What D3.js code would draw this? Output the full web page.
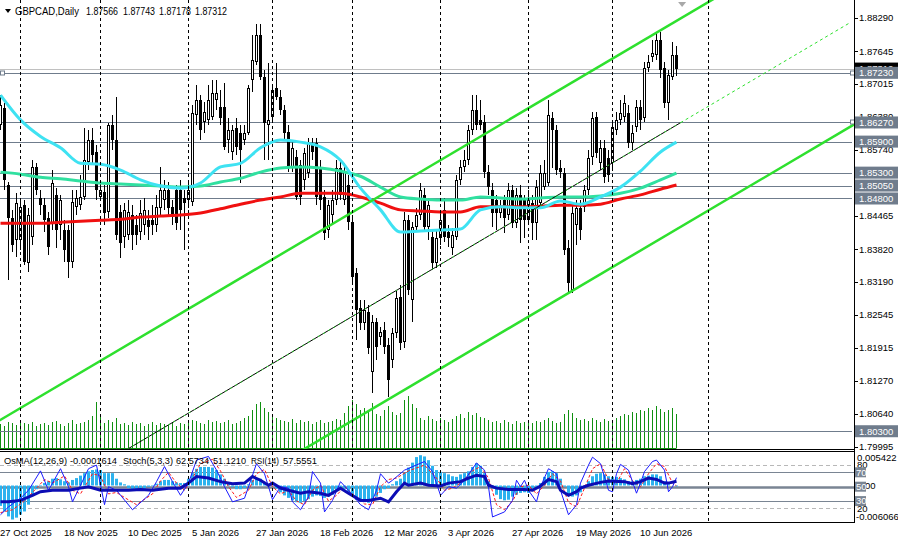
<!DOCTYPE html>
<html>
<head>
<meta charset="utf-8">
<script src="https://cdn.jsdelivr.net/npm/d3@7"></script>
<style>
body { margin: 0; background: #fff; }
svg { display: block; font-family: "Liberation Sans", Arial, sans-serif; font-size: 9.5px; }
</style>
</head>
<body>
<svg width="898" height="544"></svg>
<script>
// daily candles, open/high/low/close, one row per bar
const ohlc = [
[1.8622,1.8680,1.8612,1.8660],[1.8655,1.8664,1.8496,1.8516],[1.8506,1.8512,1.8322,1.8443],[1.8443,1.8458,1.8376,1.8390],
[1.8400,1.8490,1.8367,1.8471],[1.8400,1.8477,1.8380,1.8463],[1.8467,1.8477,1.8351,1.8357],[1.8355,1.8462,1.8338,1.8448],
[1.8405,1.8554,1.8390,1.8540],[1.8540,1.8548,1.8486,1.8496],[1.8481,1.8496,1.8448,1.8467],[1.8467,1.8481,1.8415,1.8438],
[1.8442,1.8454,1.8371,1.8386],[1.8432,1.8535,1.8419,1.8510],[1.8487,1.8500,1.8384,1.8419],[1.8429,1.8487,1.8400,1.8477],
[1.8419,1.8438,1.8357,1.8380],[1.8419,1.8429,1.8326,1.8357],[1.8357,1.8496,1.8346,1.8473],[1.8463,1.8496,1.8448,1.8481],
[1.8467,1.8525,1.8458,1.8483],[1.8483,1.8616,1.8477,1.8554],[1.8550,1.8612,1.8535,1.8593],[1.8593,1.8616,1.8545,1.8564],
[1.8570,1.8583,1.8477,1.8496],[1.8483,1.8516,1.8477,1.8496],[1.8492,1.8506,1.8429,1.8452],[1.8454,1.8626,1.8442,1.8622],
[1.8622,1.8641,1.8574,1.8593],[1.8593,1.8676,1.8400,1.8409],[1.8454,1.8467,1.8365,1.8394],[1.8405,1.8471,1.8384,1.8458],
[1.8409,1.8477,1.8400,1.8454],[1.8448,1.8467,1.8380,1.8409],[1.8429,1.8448,1.8390,1.8409],[1.8415,1.8477,1.8400,1.8452],
[1.8429,1.8481,1.8409,1.8458],[1.8438,1.8458,1.8400,1.8425],[1.8438,1.8467,1.8409,1.8429],[1.8429,1.8487,1.8415,1.8463],
[1.8461,1.8540,1.8448,1.8496],[1.8477,1.8516,1.8458,1.8496],[1.8496,1.8512,1.8448,1.8461],[1.8463,1.8477,1.8429,1.8444],
[1.8496,1.8506,1.8419,1.8432],[1.8496,1.8516,1.8419,1.8458],[1.8481,1.8496,1.8380,1.8471],[1.8477,1.8516,1.8461,1.8496],
[1.8473,1.8660,1.8465,1.8645],[1.8641,1.8699,1.8622,1.8670],[1.8670,1.8680,1.8593,1.8612],[1.8628,1.8666,1.8606,1.8647],
[1.8632,1.8699,1.8622,1.8670],[1.8638,1.8709,1.8632,1.8684],[1.8670,1.8709,1.8651,1.8684],[1.8657,1.8690,1.8622,1.8636],
[1.8657,1.8703,1.8574,1.8580],[1.8593,1.8636,1.8568,1.8612],[1.8570,1.8622,1.8554,1.8612],[1.8616,1.8636,1.8564,1.8580],
[1.8606,1.8622,1.8510,1.8574],[1.8593,1.8622,1.8583,1.8606],[1.8606,1.8699,1.8603,1.8694],[1.8709,1.8796,1.8686,1.8748],
[1.8744,1.8817,1.8738,1.8796],[1.8796,1.8817,1.8709,1.8714],[1.8714,1.8728,1.8554,1.8626],[1.8622,1.8742,1.8554,1.8632],
[1.8638,1.8699,1.8632,1.8690],[1.8694,1.8742,1.8670,1.8676],[1.8676,1.8690,1.8641,1.8651],[1.8651,1.8660,1.8593,1.8606],
[1.8608,1.8622,1.8531,1.8540],[1.8540,1.8593,1.8531,1.8577],[1.8560,1.8574,1.8477,1.8483],[1.8545,1.8554,1.8467,1.8483],
[1.8516,1.8577,1.8496,1.8568],[1.8529,1.8597,1.8520,1.8587],[1.8583,1.8597,1.8554,1.8570],[1.8587,1.8597,1.8467,1.8483],
[1.8540,1.8554,1.8458,1.8477],[1.8483,1.8496,1.8400,1.8413],[1.8419,1.8477,1.8404,1.8467],[1.8448,1.8496,1.8429,1.8477],
[1.8477,1.8554,1.8467,1.8539],[1.8539,1.8554,1.8477,1.8487],[1.8477,1.8548,1.8467,1.8531],[1.8506,1.8525,1.8419,1.8434],
[1.8434,1.8448,1.8319,1.8328],[1.8336,1.8346,1.8206,1.8264],[1.8268,1.8284,1.8226,1.8239],[1.8239,1.8284,1.8226,1.8264],
[1.8260,1.8274,1.8180,1.8191],[1.8144,1.8255,1.8104,1.8241],[1.8241,1.8249,1.8168,1.8193],[1.8212,1.8232,1.8197,1.8222],
[1.8226,1.8241,1.8180,1.8193],[1.8197,1.8210,1.8096,1.8129],[1.8168,1.8230,1.8152,1.8220],[1.8220,1.8303,1.8210,1.8288],
[1.8290,1.8313,1.8187,1.8201],[1.8203,1.8454,1.8191,1.8438],[1.8438,1.8448,1.8294,1.8303],[1.8284,1.8434,1.8241,1.8425],
[1.8425,1.8462,1.8415,1.8448],[1.8448,1.8510,1.8438,1.8496],[1.8487,1.8500,1.8415,1.8425],[1.8425,1.8481,1.8400,1.8467],
[1.8405,1.8419,1.8342,1.8355],[1.8355,1.8419,1.8346,1.8404],[1.8404,1.8454,1.8390,1.8438],[1.8458,1.8481,1.8396,1.8405],
[1.8415,1.8429,1.8386,1.8404],[1.8384,1.8423,1.8371,1.8409],[1.8405,1.8525,1.8400,1.8516],[1.8516,1.8554,1.8506,1.8540],
[1.8540,1.8574,1.8531,1.8554],[1.8554,1.8622,1.8545,1.8612],[1.8612,1.8680,1.8603,1.8651],[1.8651,1.8680,1.8612,1.8622],
[1.8632,1.8670,1.8612,1.8622],[1.8628,1.8641,1.8520,1.8531],[1.8531,1.8545,1.8487,1.8502],[1.8496,1.8510,1.8425,1.8452],
[1.8477,1.8487,1.8419,1.8452],[1.8452,1.8477,1.8442,1.8463],[1.8477,1.8487,1.8413,1.8442],[1.8448,1.8510,1.8438,1.8496],
[1.8496,1.8506,1.8423,1.8432],[1.8432,1.8500,1.8423,1.8487],[1.8487,1.8506,1.8394,1.8438],[1.8477,1.8487,1.8404,1.8438],
[1.8438,1.8496,1.8429,1.8477],[1.8471,1.8487,1.8400,1.8432],[1.8432,1.8516,1.8400,1.8502],[1.8471,1.8545,1.8461,1.8529],
[1.8502,1.8554,1.8496,1.8529],[1.8510,1.8670,1.8504,1.8641],[1.8636,1.8647,1.8539,1.8612],[1.8612,1.8622,1.8525,1.8535],
[1.8539,1.8554,1.8520,1.8531],[1.8529,1.8539,1.8371,1.8380],[1.8384,1.8400,1.8297,1.8316],[1.8303,1.8467,1.8297,1.8452],
[1.8429,1.8477,1.8390,1.8461],[1.8461,1.8477,1.8400,1.8419],[1.8463,1.8506,1.8454,1.8496],[1.8496,1.8574,1.8487,1.8558],
[1.8560,1.8647,1.8545,1.8636],[1.8638,1.8647,1.8558,1.8568],[1.8548,1.8593,1.8535,1.8577],[1.8577,1.8593,1.8510,1.8522],
[1.8558,1.8574,1.8512,1.8525],[1.8548,1.8632,1.8535,1.8618],[1.8612,1.8647,1.8603,1.8632],[1.8632,1.8670,1.8622,1.8645],
[1.8638,1.8680,1.8628,1.8664],[1.8645,1.8660,1.8577,1.8587],[1.8587,1.8622,1.8574,1.8606],[1.8618,1.8670,1.8608,1.8657],
[1.8657,1.8670,1.8612,1.8632],[1.8636,1.8744,1.8628,1.8732],[1.8732,1.8757,1.8724,1.8744],[1.8754,1.8786,1.8744,1.8761],
[1.8757,1.8800,1.8748,1.8786],[1.8786,1.8802,1.8713,1.8728],[1.8732,1.8744,1.8655,1.8664],[1.8664,1.8728,1.8632,1.8719],
[1.8715,1.8782,1.8709,1.8757],[1.87566,1.87743,1.87178,1.87312]
];

// tick volumes (thousands)
const volumes = [48,44,52,50,46,56,50,48,52,44,48,50,46,52,54,48,44,50,56,48,50,52,
  56,64,92,68,
  50,56,52,60,48,50,46,52,48,50,44,48,52,46,50,48,46,52,44,50,48,
  52,56,54,50,48,56,52,54,50,52,56,48,50,54,60,64,
  76,88,92,80,72,68,
  60,56,54,52,58,50,56,52,54,48,52,56,50,52,54,58,56,
  70,84,96,88,76,80,72,90,
  68,64,76,84,72,66,70,
  96,104,88,80,
  60,56,64,58,54,60,56,52,58,
  64,68,60,72,66,70,62,
  60,56,52,54,50,56,52,48,54,50,52,56,50,54,52,56,60,54,50,52,
  68,76,70,
  60,56,58,54,60,56,52,58,54,56,60,
  64,68,66,72,70,76,74,80,76,84,78,72,76,80,
  68];

// moving averages, read every 5 bars
const maBars = [0,5,10,15,20,25,30,35,40,45,50,55,60,65,70,75,80,85,90,95,100,105,110,115,120,125,130,135,140,145,150,155,160,165,169];
const maFast = [1.8680,1.8632,1.8600,1.8578,1.8548,1.8546,1.8535,1.8516,1.8504,1.8500,1.8510,1.8541,1.8548,1.8578,1.8593,1.8589,1.8580,1.8554,1.8500,1.8458,1.8415,1.8417,1.8419,1.8421,1.8458,1.8464,1.8462,1.8462,1.8475,1.8469,1.8483,1.8502,1.8533,1.8570,1.8589];
const maMid = [1.8531,1.8527,1.8521,1.8518,1.8514,1.8510,1.8508,1.8506,1.8504,1.8502,1.8504,1.8512,1.8519,1.8531,1.8539,1.8541,1.8539,1.8533,1.8523,1.8502,1.8483,1.8479,1.8477,1.8477,1.8483,1.8481,1.8479,1.8481,1.8483,1.8483,1.8485,1.8490,1.8500,1.8516,1.8529];
const maSlow = [1.8432,1.8432,1.8432,1.8434,1.8436,1.8438,1.8440,1.8444,1.8446,1.8448,1.8452,1.8460,1.8469,1.8477,1.8483,1.8490,1.8490,1.8490,1.8483,1.8471,1.8458,1.8456,1.8454,1.8454,1.8464,1.8464,1.8464,1.8465,1.8467,1.8467,1.8469,1.8479,1.8487,1.8498,1.8506];

// horizontal levels and channel anchors
const levels = [1.8723, 1.8627, 1.8590, 1.8530, 1.8505, 1.8480, 1.8030];
const chanBars = [0, 170];
const chanUpper = [1.8052, 1.8828];
const chanLower = [1.7649, 1.8425];

const priceTicks = [1.88290,1.87645,1.87015,1.86380,1.85740,1.85100,1.84465,1.83820,1.83190,1.82545,1.81915,1.81270,1.80640,1.79995];
const dateBars = [0,16,32,48,64,80,96,112,128,144,160];
const dateLabels = ["27 Oct 2025","18 Nov 2025","10 Dec 2025","5 Jan 2026","27 Jan 2026","18 Feb 2026","12 Mar 2026","3 Apr 2026","27 Apr 2026","19 May 2026","10 Jun 2026"];
const monthStarts = [5,25,47,68,88,110,132,153,177];

// oscillators
const osma = [-0.0033,-0.0042,-0.0050,-0.0055,-0.0052,-0.0047,-0.0042,-0.0031,-0.0017,-0.0006,
 -0.0001,0.0004,0.0007,0.0011,0.0012,0.0010,0.0007,0.0005,0.0009,0.0012,
 0.0016,0.0020,0.0023,0.0025,0.0026,0.0025,0.0020,0.0020,0.0020,0.0011,
 0.0005,0.0002,-0.0004,-0.0006,-0.0008,-0.0006,-0.0005,-0.0002,-0.0001,0.0003,
 0.0007,0.0009,0.0009,0.0007,0.0005,0.0004,0.0004,0.0011,0.0020,0.0027,
 0.0030,0.0030,0.0030,0.0029,0.0025,0.0018,0.0011,0.0004,-0.0002,-0.0006,
 -0.0006,-0.0004,0.0002,0.0009,0.0012,0.0011,0.0005,0.0002,-0.0001,-0.0005,
 -0.0011,-0.0016,-0.0020,-0.0024,-0.0027,-0.0028,-0.0025,-0.0022,-0.0018,-0.0016,
 -0.0017,-0.0020,-0.0018,-0.0015,-0.0009,-0.0005,-0.0006,-0.0011,-0.0017,-0.0023,
 -0.0025,-0.0027,-0.0028,-0.0025,-0.0018,-0.0012,-0.0006,-0.0004,0.0002,0.0007,
 0.0011,0.0020,0.0029,0.0037,0.0046,0.0049,0.0047,0.0041,0.0032,0.0025,
 0.0022,0.0020,0.0018,0.0015,0.0014,0.0018,0.0020,0.0023,0.0030,0.0036,
 0.0032,0.0020,0.0007,-0.0005,-0.0015,-0.0022,-0.0024,-0.0023,-0.0018,-0.0015,
 -0.0012,-0.0011,-0.0012,-0.0009,-0.0004,0.0004,0.0014,0.0022,0.0023,0.0020,
 0.0011,-0.0002,-0.0015,-0.0018,-0.0016,-0.0011,-0.0004,0.0007,0.0015,0.0019,
 0.0020,0.0018,0.0015,0.0014,0.0014,0.0012,0.0010,0.0007,0.0007,0.0009,
 0.0011,0.0015,0.0016,0.0018,0.0018,0.0015,0.0007,0.0002,0.0000,-0.00016];

const stochMain = [[0,11],[2,22],[5,34],[7,45],[10,72],[12,45],[15,75],[17,50],[18,29],[22,75],[24,80],[26,25],[27,50],[29,45],[33,18],[37,38],[39,57],[41,78],[43,57],[45,38],[47,55],[49,87],[52,92],[54,73],[56,50],[58,29],[61,34],[63,66],[64,82],[66,68],[68,32],[70,50],[72,48],[73,29],[75,18],[77,36],[78,71],[80,55],[81,15],[83,31],[85,57],[87,45],[90,25],[92,18],[94,45],[95,68],[97,55],[98,59],[101,73],[106,85],[108,71],[110,38],[112,50],[114,48],[116,59],[119,83],[121,73],[122,50],[123,8],[126,15],[128,31],[129,59],[130,50],[131,59],[132,45],[134,29],[135,50],[137,75],[139,68],[140,45],[142,11],[144,25],[145,55],[147,80],[148,91],[150,82],[152,45],[153,43],[154,68],[155,81],[157,73],[159,41],[160,55],[161,71],[163,85],[164,87],[166,73],[167,43],[168,50],[169,62.57]];
const stochSignal = [[0,14],[3,18],[6,30],[9,48],[11,60],[13,55],[16,65],[18,45],[20,40],[23,68],[25,65],[27,40],[29,42],[31,35],[34,25],[38,40],[40,58],[42,70],[44,55],[46,45],[48,62],[50,82],[53,88],[55,72],[57,50],[59,35],[62,45],[64,68],[66,74],[68,50],[70,40],[72,45],[74,30],[76,25],[78,45],[80,52],[82,30],[84,38],[86,50],[88,40],[91,26],[93,25],[95,50],[97,60],[99,62],[102,72],[106,80],[109,62],[111,45],[113,48],[115,55],[118,72],[120,78],[122,62],[124,25],[126,18],[128,30],[130,50],[132,52],[134,40],[136,52],[138,68],[140,58],[142,28],[144,22],[146,48],[148,75],[150,82],[152,60],[154,55],[156,75],[158,58],[160,50],[162,68],[164,82],[166,78],[168,55],[169,51.12]];
const rsi = [[0,29],[2,29],[5,31],[8,38],[10,43],[13,45],[17,45],[20,48],[22,50],[25,45],[29,45],[32,45],[35,46],[38,45],[42,48],[45,48],[47,55],[49,64],[52,62],[55,57],[58,54],[61,55],[63,64],[65,59],[67,52],[68,55],[70,48],[72,45],[75,41],[77,43],[80,41],[82,38],[85,48],[87,41],[90,31],[92,31],[95,34],[97,29],[99,43],[101,55],[102,52],[105,55],[107,52],[110,51],[112,55],[115,57],[117,62],[119,66],[121,64],[122,52],[124,48],[127,46],[131,46],[133,45],[135,51],[137,60],[139,57],[140,45],[142,38],[144,43],[145,48],[147,52],[150,56],[152,58],[156,57],[158,54],[160,57],[162,62],[164,60],[166,55],[167,55],[169,57.56]];

const svg = d3.select("svg");
const right = 854;

const x = d3.scaleLinear().domain([0, 1]).range([0.5, 4.5]);
const y = d3.scaleLinear().domain([1.8829, 1.79995]).range([18, 447]);
const yVol = d3.scaleLinear().domain([0, 100]).range([448, 398]);
const yOsma = d3.scaleLinear().domain([-0.006066, 0.005422]).range([523, 452]);
const yPct = d3.scaleLinear().domain([0, 100]).range([522.7, 450.7]);

const defs = svg.append("defs");
defs.append("clipPath").attr("id", "clipMain").append("rect").attr("x", 0).attr("y", 0).attr("width", right).attr("height", 449);
defs.append("clipPath").attr("id", "clipOsc").append("rect").attr("x", 0).attr("y", 452).attr("width", right).attr("height", 71);

const main = svg.append("g").attr("clip-path", "url(#clipMain)");
const osc = svg.append("g").attr("clip-path", "url(#clipOsc)");

// vertical grid at month starts
[[0, 449], [452, 523]].forEach(r => {
    svg.append("g").selectAll("line")
        .data(monthStarts)
        .enter()
        .append("line")
        .attr("x1", d => x(d)).attr("x2", d => x(d))
        .attr("y1", r[0]).attr("y2", r[1])
        .attr("stroke", "#000")
        .attr("stroke-dasharray", "3,3");
});

// volumes
main.append("line").attr("x1", 0).attr("x2", x(volumes.length - 1)).attr("y1", 448.5).attr("y2", 448.5).attr("stroke", "#109010");
main.append("g").selectAll("line")
    .data(volumes)
    .enter()
    .append("line")
    .attr("x1", (d, i) => x(i)).attr("x2", (d, i) => x(i))
    .attr("y1", yVol(0)).attr("y2", d => yVol(d))
    .attr("stroke", "#109010");

// levels and bid line
const lastClose = ohlc[ohlc.length - 1][3];
main.append("line").attr("x1", 0).attr("x2", right).attr("y1", Math.round(y(lastClose)) + 0.5).attr("y2", Math.round(y(lastClose)) + 0.5).attr("stroke", "#c0c0c0");
main.append("g").selectAll("line")
    .data(levels)
    .enter()
    .append("line")
    .attr("x1", 0).attr("x2", 852)
    .attr("y1", d => Math.round(y(d)) + 0.5).attr("y2", d => Math.round(y(d)) + 0.5)
    .attr("stroke", "#6f7c8c");

// candles
const bars = ohlc.map((d, i) => ({ i: i, o: d[0], h: d[1], l: d[2], c: d[3] }));
main.append("g").selectAll("line")
    .data(bars)
    .enter()
    .append("line")
    .attr("x1", d => x(d.i)).attr("x2", d => x(d.i))
    .attr("y1", d => Math.round(y(d.h))).attr("y2", d => Math.round(y(d.l)))
    .attr("stroke", "#000");
main.append("g").selectAll("rect")
    .data(bars)
    .enter()
    .append("rect")
    .attr("x", d => d.c >= d.o ? x(d.i) - 1 : x(d.i) - 1.5)
    .attr("width", d => d.c >= d.o ? 2 : 3)
    .attr("y", d => d.c >= d.o ? Math.round(y(d.c)) + 0.5 : Math.round(y(d.o)))
    .attr("height", d => d.c >= d.o
        ? Math.max(0, Math.round(y(d.o)) - Math.round(y(d.c)) - 1)
        : Math.max(1, Math.round(y(d.c)) - Math.round(y(d.o))))
    .attr("fill", d => d.c >= d.o ? "#fff" : "#000")
    .attr("stroke", d => d.c >= d.o ? "#000" : "none");

// moving averages
const maLine = d3.line().x(d => x(d[0])).y(d => y(d[1])).curve(d3.curveMonotoneX);
[[maSlow, "#f01010"], [maMid, "#30e0a0"], [maFast, "#3ee2f2"]].forEach(m => {
    main.append("path")
        .attr("d", maLine(maBars.map((b, k) => [b, m[0][k]])))
        .attr("fill", "none")
        .attr("stroke", m[1])
        .attr("stroke-width", 3);
});

// channel
const upper = d3.scaleLinear().domain(chanBars).range(chanUpper);
const lower = d3.scaleLinear().domain(chanBars).range(chanLower);
const middle = d3.scaleLinear().domain(chanBars).range(chanUpper.map((u, k) => (u + chanLower[k]) / 2));
const lastBar = ohlc.length - 1;
[upper, lower].forEach(s => {
    main.append("line")
        .attr("x1", x(-2)).attr("y1", y(s(-2)))
        .attr("x2", x(214)).attr("y2", y(s(214)))
        .attr("stroke", "#2ee02e")
        .attr("stroke-width", 2.5);
});
main.append("line")
    .attr("x1", x(-2)).attr("y1", y(middle(-2)))
    .attr("x2", x(lastBar + 1)).attr("y2", y(middle(lastBar + 1)))
    .attr("stroke", "#000");
main.append("line")
    .attr("x1", x(-2)).attr("y1", y(middle(-2)))
    .attr("x2", x(lastBar + 1)).attr("y2", y(middle(lastBar + 1)))
    .attr("stroke", "#2ee02e").attr("stroke-dasharray", "2,4");
main.append("line")
    .attr("x1", x(lastBar + 1)).attr("y1", y(middle(lastBar + 1)))
    .attr("x2", x(212)).attr("y2", y(middle(212)))
    .attr("stroke", "#2ee02e").attr("stroke-dasharray", "3,3");

// handles on level lines
[[1, levels[0]], [851, levels[0]], [851, levels[1]]].forEach(h => {
    svg.append("rect")
        .attr("x", h[0] - 0.5).attr("y", Math.round(y(h[1])) - 2)
        .attr("width", 4).attr("height", 4)
        .attr("fill", "#fff").attr("stroke", "#6f7c8c");
});

// chart shift marker
svg.append("path")
    .attr("d", `M${x(lastBar + 1.4) - 4},2 L${x(lastBar + 1.4) + 4},2 L${x(lastBar + 1.4)},7 Z`)
    .attr("fill", "#a8a8a8");

// panel frames
svg.append("line").attr("x1", right + 0.5).attr("x2", right + 0.5).attr("y1", 0).attr("y2", 523).attr("stroke", "#000");
svg.append("line").attr("x1", 0).attr("x2", right).attr("y1", 449.5).attr("y2", 449.5).attr("stroke", "#000");
svg.append("line").attr("x1", 0).attr("x2", right).attr("y1", 451.5).attr("y2", 451.5).attr("stroke", "#000");
svg.append("line").attr("x1", 0).attr("x2", right).attr("y1", 522.5).attr("y2", 522.5).attr("stroke", "#000");

// price axis
const pAxis = svg.append("g");
pAxis.selectAll("line")
    .data(priceTicks)
    .enter()
    .append("line")
    .attr("x1", right).attr("x2", right + 4)
    .attr("y1", d => Math.round(y(d)) + 0.5).attr("y2", d => Math.round(y(d)) + 0.5)
    .attr("stroke", "#000");
pAxis.selectAll("text")
    .data(priceTicks)
    .enter()
    .append("text")
    .attr("x", right + 5).attr("y", d => y(d))
    .attr("dy", "0.35em")
    .text(d => d.toFixed(5));

// bid label then level labels
const tag = (v, bg) => {
    svg.append("rect").attr("x", right + 1).attr("y", y(v) - 6).attr("width", 44).attr("height", 12).attr("fill", bg);
    svg.append("text").attr("x", right + 5).attr("y", y(v)).attr("dy", "0.35em").attr("fill", "#fff").text(v.toFixed(5));
};
tag(lastClose, "#000");
levels.forEach(v => tag(v, "#6f7c8c"));

// date axis
svg.append("g").selectAll("text")
    .data(dateBars)
    .enter()
    .append("text")
    .attr("x", d => x(d) - 0.5)
    .attr("y", 535.5)
    .text((d, i) => dateLabels[i]);

// oscillator levels
[[80, "#b8b8b8", 1, "4,3"], [20, "#b8b8b8", 1, "4,3"], [70, "#7a8593", 1, null], [30, "#7a8593", 1, null], [50, "#7a8593", 2.5, null]].forEach(l => {
    osc.append("line")
        .attr("x1", 0).attr("x2", right)
        .attr("y1", Math.round(yPct(l[0])) + 0.5).attr("y2", Math.round(yPct(l[0])) + 0.5)
        .attr("stroke", l[1]).attr("stroke-width", l[2])
        .attr("stroke-dasharray", l[3]);
});

// OsMA histogram
osc.append("g").selectAll("rect")
    .data(osma)
    .enter()
    .append("rect")
    .attr("x", (d, i) => x(i) - 1.5)
    .attr("width", 3)
    .attr("y", d => Math.min(yOsma(d), yOsma(0)))
    .attr("height", d => Math.abs(yOsma(d) - yOsma(0)))
    .attr("fill", "#2cb2ee");

const pLine = d3.line().x(d => x(d[0])).y(d => yPct(d[1]));
osc.append("path").attr("d", pLine(stochSignal)).attr("fill", "none").attr("stroke", "#ff1a1a").attr("stroke-dasharray", "3,2");
osc.append("path").attr("d", pLine(stochMain)).attr("fill", "none").attr("stroke", "#1a1aff");
osc.append("path").attr("d", pLine(rsi)).attr("fill", "none").attr("stroke", "#0c0cb4").attr("stroke-width", 3);

// oscillator scale labels
svg.append("text").attr("x", right + 3).attr("y", 458).attr("dy", "0.35em").text("0.005422");
svg.append("text").attr("x", right + 3).attr("y", yPct(80)).attr("dy", "0.35em").text("80");
svg.append("text").attr("x", right + 3).attr("y", yPct(20)).attr("dy", "0.35em").text("20");
svg.append("text").attr("x", right + 2).attr("y", 517).attr("dy", "0.35em").text("-0.006066");
svg.append("text").attr("x", right + 3).attr("y", yOsma(0)).attr("dy", "0.35em").text("0.00");
[70, 50, 30].forEach(v => {
    svg.append("rect").attr("x", right + 1).attr("y", yPct(v) - 5).attr("width", 11).attr("height", 10).attr("fill", "#7a8593");
    svg.append("text").attr("x", right + 2).attr("y", yPct(v)).attr("dy", "0.35em").attr("fill", "#fff").text(v);
});

// headers: [x, width, text]
svg.append("path").attr("d", "M5,9 L11,9 L8,13 Z").attr("fill", "#000");
const mainHead = [[15, 64, "GBPCAD,Daily"]].concat(ohlc[lastBar].map((v, k) => [[86, 123, 159, 195][k], 32, v.toFixed(5)]));
const oscHead = [[4, 63, "OsMA(12,26,9)"], [70, 47, "-0.0001614"], [123, 50, "Stoch(5,3,3)"], [176, 33, "62.5734"], [213, 33, "51.1210"], [251, 28, "RSI(14)"], [283, 34, "57.5551"]];
[[mainHead, 11, 10.5], [oscHead, 460.5, 9.5]].forEach(h => {
    svg.append("g").selectAll("text")
        .data(h[0])
        .enter()
        .append("text")
        .attr("x", d => d[0]).attr("y", h[1]).attr("dy", "0.35em")
        .attr("font-size", h[2])
        .attr("textLength", d => d[1])
        .attr("lengthAdjust", "spacingAndGlyphs")
        .text(d => d[2]);
});
</script>
</body>
</html>
